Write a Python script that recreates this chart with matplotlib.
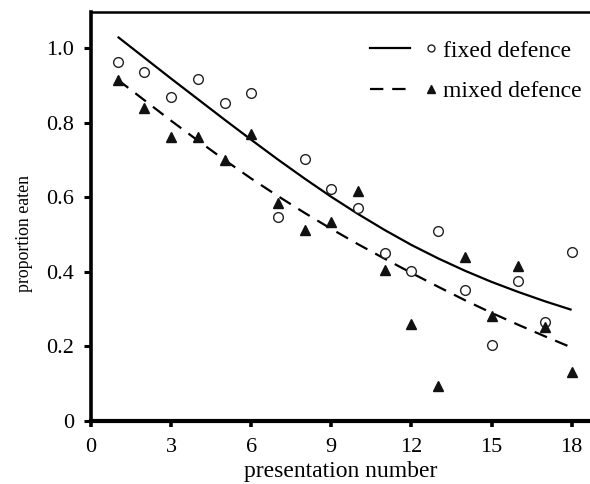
import numpy as np
import matplotlib
matplotlib.use("Agg")
import matplotlib.pyplot as plt
from matplotlib.lines import Line2D
from matplotlib.legend_handler import HandlerTuple

plt.rcParams['font.family'] = ['Liberation Serif', 'DejaVu Serif']

presentation = [1, 2, 3, 4, 5, 6, 7, 8, 9, 10, 11, 12, 13, 14, 15, 16, 17, 18]

# observed proportions
fixed_obs = [0.963, 0.935, 0.868, 0.916, 0.852, 0.879, 0.548, 0.702, 0.622,
             0.570, 0.451, 0.403, 0.509, 0.351, 0.204, 0.376, 0.265, 0.454]
mixed_obs = [0.914, 0.838, 0.762, 0.762, 0.700, 0.769, 0.584, 0.512, 0.534,
             0.617, 0.405, 0.260, 0.095, 0.440, 0.281, 0.416, 0.253, 0.132]

# fitted curves
fixed_fit = [1.030, 0.974, 0.918, 0.863, 0.808, 0.754, 0.701, 0.650, 0.601,
             0.555, 0.512, 0.472, 0.436, 0.403, 0.373, 0.346, 0.321, 0.298]
mixed_fit = [0.915, 0.860, 0.805, 0.752, 0.700, 0.650, 0.603, 0.558, 0.515,
             0.474, 0.435, 0.397, 0.360, 0.324, 0.290, 0.258, 0.227, 0.197]

xticks = [0, 3, 6, 9, 12, 15, 18]
yticks = [0, 0.2, 0.4, 0.6, 0.8, 1.0]
yticklabels = ['0', '0.2', '0.4', '0.6', '0.8', '1.0']

fig = plt.figure(figsize=(5.9, 4.84), dpi=100)
ax = fig.add_axes([91/590, 1-421/484, 1-91/590, (421-12)/484])

ax.plot(presentation, fixed_fit, color='k', lw=1.6, solid_capstyle='butt')
ax.plot(presentation, mixed_fit, color='k', lw=1.6, dashes=(6, 4))
ax.plot(presentation, fixed_obs, 'o', ms=7, mfc='white', mec='#222222', mew=1.0, ls='none')
ax.plot(presentation, mixed_obs, '^', ms=7.5, color='#111111', ls='none')

ax.set_xlim(0, (590-91)/26.7)
ax.set_ylim(0, (421-12)/373)
ax.set_xticks(xticks)
ax.set_yticks(yticks)
ax.set_yticklabels(yticklabels)

ax.spines['left'].set_linewidth(2.6)
ax.spines['bottom'].set_linewidth(3.0)
ax.spines['top'].set_linewidth(1.8)
ax.spines['right'].set_visible(False)

ax.tick_params(axis='x', direction='out', length=4, width=2.6, labelsize=16, pad=8)
ax.tick_params(axis='y', direction='out', length=5, width=2.2, labelsize=16, pad=7)

ax.set_xlabel('presentation number', fontsize=17, labelpad=3)
ax.set_ylabel('proportion eaten', fontsize=12.8)
ax.yaxis.set_label_coords((33-91)/499, (421-234)/409)

h_fixed = (Line2D([], [], color='k', lw=1.6),
           Line2D([], [], marker='o', ms=5, mfc='white', mec='#222222', mew=1.0, ls='none'))
h_mixed = (Line2D([], [], color='k', lw=1.6, dashes=(6, 4)),
           Line2D([], [], marker='^', ms=5.5, color='#111111', ls='none'))

ax.legend([h_fixed, h_mixed], ['fixed defence', 'mixed defence'],
          handler_map={tuple: HandlerTuple(ndivide=None, pad=0.05)},
          loc='upper left', bbox_to_anchor=(370/590, 1-40/484),
          bbox_transform=fig.transFigure, frameon=False, fontsize=17,
          handlelength=3.4, handletextpad=-0.3, borderpad=0, borderaxespad=0,
          labelspacing=0.8)

fig.savefig('out.png', dpi=100)
